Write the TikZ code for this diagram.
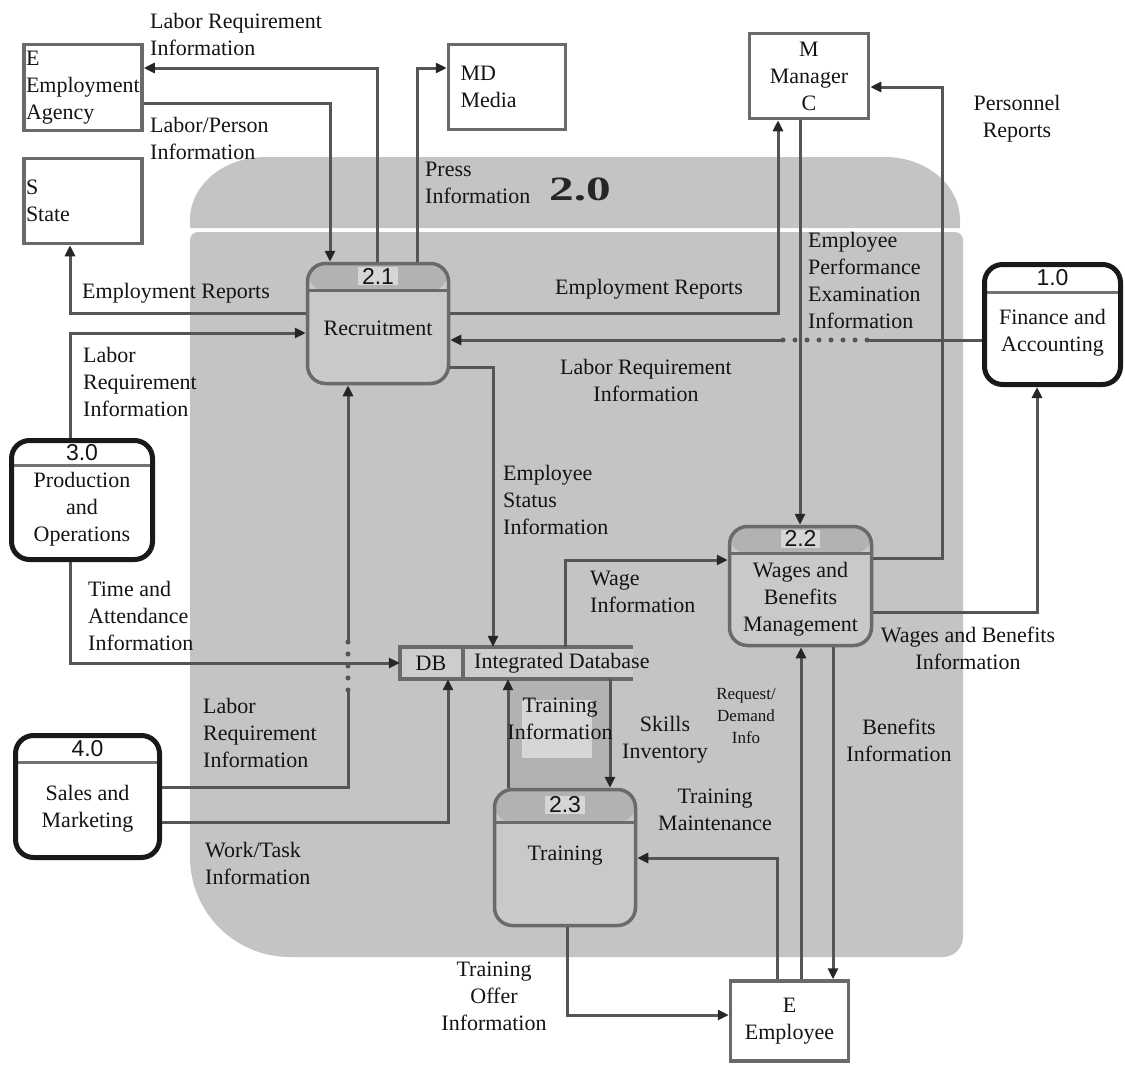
\documentclass[tikz,border=0pt]{standalone}
\usepackage{fontspec}
\setmainfont{Liberation Serif}
\newfontfamily\numfont{Liberation Sans}
\usetikzlibrary{arrows.meta,calc}
\definecolor{bgg}{HTML}{C4C4C4}
\definecolor{procg}{HTML}{C9C9C9}
\definecolor{hdrg}{HTML}{B2B2B2}
\definecolor{lineg}{HTML}{555555}
\definecolor{bordg}{HTML}{6A6A6A}
\definecolor{txtc}{HTML}{141414}
\definecolor{patchg}{HTML}{D6D6D6}
\definecolor{dbg}{HTML}{CDCDCD}
\tikzset{
  lbl/.style={inner sep=0pt, font=\fontsize{22}{27}\selectfont, text=txtc, align=left},
  lblc/.style={lbl, align=center},
  smalllbl/.style={inner sep=0pt, font=\fontsize{17}{22}\selectfont, text=txtc, align=center},
  flow/.style={draw=lineg, line width=3pt, -{Triangle[length=11pt,width=10pt,color=black!85]}},
  ext/.style={rectangle, draw=bordg, line width=3.5pt, fill=white, inner sep=2pt,
    font=\fontsize{22}{27}\selectfont, text=txtc},
  proc/.style={rectangle, draw=bordg, line width=3.5pt, fill=procg, rounded corners=18pt, inner sep=0pt},
  procw/.style={rectangle, draw=black!90, line width=5pt, fill=white, rounded corners=18pt, inner sep=0pt},
  hdr/.style={path picture={
    \fill[hdrg] (path picture bounding box.north west) rectangle ([yshift=-#1pt]path picture bounding box.north east);
    \draw[bordg, line width=3pt] ([yshift=-#1pt]path picture bounding box.north west) -- ([yshift=-#1pt]path picture bounding box.north east);}},
  hdrw/.style={path picture={
    \draw[black!55, line width=2.5pt] ([yshift=-#1pt]path picture bounding box.north west) -- ([yshift=-#1pt]path picture bounding box.north east);}},
  num/.style={font=\numfont\fontsize{23}{23}\selectfont, text=txtc, fill=patchg, inner xsep=4pt, inner ysep=1pt},
  numw/.style={num, fill=white},
  dbline/.style={draw=bordg, line width=3.5pt},
  dotline/.style={draw=lineg, line width=5pt, line cap=round, dash pattern=on 0pt off 12pt},
  gapline/.style={draw=bgg, line width=6pt}
}
\begin{document}
\begin{tikzpicture}[x=1pt,y=-1pt]
\useasboundingbox (0,0) rectangle (1125,1066);
% ---- 2.0 container ----
\fill[bgg] (190,228) -- (190,220) arc[start angle=180,end angle=270,x radius=75,y radius=63]
  -- (885,157) arc[start angle=270,end angle=360,x radius=75,y radius=63] -- (960,228) -- cycle;
\fill[bgg] (190,240) -- (190,857) arc[start angle=180,end angle=90,radius=100]
  -- (943,957) arc[start angle=90,end angle=0,radius=20]
  -- (963,240) arc[start angle=0,end angle=-90,radius=8]
  -- (198,232) arc[start angle=-90,end angle=-180,radius=8] -- cycle;
\fill[hdrg] (508,681) rectangle (610,788);
\fill[patchg] (522,700) rectangle (592,758);

% ---- external entities ----
\node[ext, minimum height=86pt, text width=114pt, align=left] (ea) at (83,87.5) {E\\Employment\\Agency};
\node[ext, minimum height=85pt, text width=114pt, align=left] (st) at (83,201) {S\\State};
\node[ext, minimum height=85pt, text width=93pt, inner xsep=12pt, align=left] (md) at (507,87) {MD\\Media};
\node[ext, minimum width=119pt, minimum height=85pt, align=center] (mg) at (809,76) {M\\Manager\\C};
\node[ext, minimum width=118pt, minimum height=80pt, align=center] (em) at (789.5,1021) {E\\Employee};

% ---- processes ----
\node[proc, hdr=27, minimum width=141pt, minimum height=120pt] (p21) at (378,323.5) {};
\node[proc, hdr=27, minimum width=142pt, minimum height=119pt] (p22) at (800.5,586) {};
\node[proc, hdr=33, minimum width=141pt, minimum height=136pt] (p23) at (565,857.5) {};
\node[procw, hdrw=28, minimum width=136pt, minimum height=120pt] (p10) at (1052.5,324.5) {};
\node[procw, hdrw=25, minimum width=141pt, minimum height=119pt] (p30) at (82,500) {};
\node[procw, hdrw=27, minimum width=144pt, minimum height=122pt] (p40) at (87.5,796.5) {};

\node[num] (n21) at ([yshift=-14.5pt]p21.north) {2.1};
\node[num] (n22) at ([yshift=-14pt]p22.north) {2.2};
\node[num] (n23) at ([yshift=-17pt]p23.north) {2.3};
\node[numw] (n10) at ([yshift=-16pt]p10.north) {1.0};
\node[numw] (n30) at ([yshift=-15pt]p30.north) {3.0};
\node[numw] (n40) at ([yshift=-16pt]p40.north) {4.0};

\node[lblc] (t21) at (378,328) {Recruitment};
\node[lblc] (t22) at (800.5,599) {Wages and\\Benefits\\Management};
\node[lblc] (t23) at (565,856) {Training};
\node[lblc] (t10) at (1052.5,333) {Finance and\\Accounting};
\node[lblc] (t30) at (82,509) {Production\\and\\Operations};
\node[lblc] (t40) at (87.5,809) {Sales and\\Marketing};

% ---- data store ----
\node[minimum width=233pt, minimum height=32pt, inner sep=0pt, fill=dbg] (db) at (516.5,663) {};
\draw[dbline] (db.north east) -- (db.north west) -- (db.south west) -- (db.south east);
\coordinate (dbdiv) at (463,663);
\draw[dbline] (dbdiv |- db.north) -- (dbdiv |- db.south);
\node[lbl] (dbl) at (431,663) {DB};
\node[lbl, anchor=west] (dbt) at (474,663) {Integrated Database};

% ---- route points ----
\coordinate (k1) at (377,68);
\coordinate (k2) at (330,103);
\coordinate (k3) at (417,68);
\coordinate (k4) at (70,313);
\coordinate (k5) at (70,333);
\coordinate (k6) at (70,663);
\coordinate (k7) at (348,787);
\coordinate (k8) at (448,822);
\coordinate (k9) at (778,313);
\coordinate (k10) at (700,340);
\coordinate (k11) at (800,300);
\coordinate (k12a) at (942,558);
\coordinate (k12b) at (942,87);
\coordinate (k13) at (1037,612);
\coordinate (k14) at (493,367);
\coordinate (k15) at (565,560);
\coordinate (k16) at (508,730);
\coordinate (k17) at (610,730);
\coordinate (k18) at (777,858);
\coordinate (k19) at (801,800);
\coordinate (k20) at (833,800);
\coordinate (k21) at (567,1015);
\coordinate (x1a) at (348,690);
\coordinate (x1b) at (348,642);
\coordinate (x2a) at (867,340);
\coordinate (x2b) at (783,340);

% ---- connectors ----
\draw[flow] (k1 |- p21.north) -- (k1) -- (k1 -| ea.east);
\draw[flow] (ea.east |- k2) -- (k2) -- (k2 |- p21.north);
\draw[flow] (k3 |- p21.north) -- (k3) -- (k3 -| md.west);
\draw[flow] (k4 -| p21.west) -- (k4) -- (k4 |- st.south);
\draw[flow] (k5 |- p30.north) -- (k5) -- (k5 -| p21.west);
\draw[flow] (k7 -| p40.east) -- (k7) -- (k7 |- p21.south);
\draw[gapline] (x1a) -- (x1b);
\draw[dotline] (x1a) -- (x1b);
\draw[flow] (k6 |- p30.south) -- (k6) -- (k6 -| db.west);
\draw[flow] (k8 -| p40.east) -- (k8) -- (k8 |- db.south);
\draw[flow] (k9 -| p21.east) -- (k9) -- (k9 |- mg.south);
\draw[flow] (k10 -| p10.west) -- (k10 -| p21.east);
\draw[gapline] (x2a) -- (x2b);
\draw[dotline] (x2a) -- (x2b);
\draw[flow] (mg.south -| k11) -- (k11 |- p22.north);
\draw[flow] (k12a -| p22.east) -- (k12a) -- (k12b) -- (k12b -| mg.east);
\draw[flow] (k13 -| p22.east) -- (k13) -- (k13 |- p10.south);
\draw[flow] (k14 -| p21.east) -- (k14) -- (k14 |- db.north);
\draw[flow] (k15 |- db.north) -- (k15) -- (k15 -| p22.west);
\draw[flow] (k16 |- p23.north) -- (k16 |- db.south);
\draw[flow] (k17 |- db.south) -- (k17 |- p23.north);
\draw[flow] (k18 |- em.north) -- (k18) -- (k18 -| p23.east);
\draw[flow] (k19 |- em.north) -- (k19 |- p22.south);
\draw[flow] (k20 |- p22.south) -- (k20 |- em.north);
\draw[flow] (k21 |- p23.south) -- (k21) -- (k21 -| em.west);

% ---- labels ----
\node[lbl, anchor=west] (l1) at (150,34) {Labor Requirement\\Information};
\node[lbl, anchor=west] (l2) at (150,138) {Labor/Person\\Information};
\node[lbl, anchor=west] (l3) at (425,183) {Press\\Information};
\node[inner sep=0pt, font=\bfseries\fontsize{34}{34}\selectfont, text=black!85] (l4) at (580,189) {\scalebox{1.45}[1]{2.0}};
\node[lbl, anchor=west] (l5) at (82,293) {Employment Reports};
\node[lbl, anchor=west] (l6) at (83,382) {Labor\\Requirement\\Information};
\node[lbl, anchor=west] (l7) at (88,616) {Time and\\Attendance\\Information};
\node[lbl, anchor=west] (l8) at (203,733) {Labor\\Requirement\\Information};
\node[lbl, anchor=west] (l9) at (205,863) {Work/Task\\Information};
\node[lbl, anchor=west] (l10) at (555,289) {Employment Reports};
\node[lblc] (l11) at (646,380) {Labor Requirement\\Information};
\node[lbl, anchor=west] (l12) at (808,280) {Employee\\Performance\\Examination\\Information};
\node[lblc] (l13) at (1017,119) {Personnel\\Reports};
\node[lblc] (l14) at (968,648) {Wages and Benefits\\Information};
\node[lbl, anchor=west] (l15) at (503,500) {Employee\\Status\\Information};
\node[lbl, anchor=west] (l16) at (590,592) {Wage\\Information};
\node[lblc] (l17) at (560,719) {Training\\Information};
\node[lblc] (l18) at (665,740) {Skills\\Inventory};
\node[smalllbl] (l19) at (746,716) {Request/\\Demand\\Info};
\node[lblc] (l20) at (715,810) {Training\\Maintenance};
\node[lblc] (l21) at (899,740) {Benefits\\Information};
\node[lblc] (l22) at (494,996) {Training\\Offer\\Information};
\end{tikzpicture}
\end{document}
